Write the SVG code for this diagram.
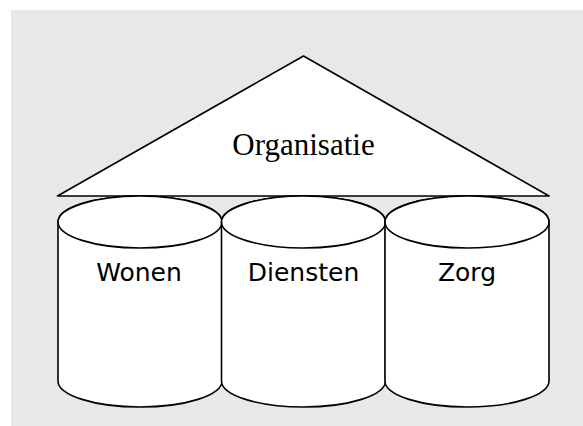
<svg xmlns="http://www.w3.org/2000/svg" width="583" height="426" viewBox="0 0 583 426">
  <style>
    .shape { fill: #ffffff; stroke: #000000; stroke-width: 1.6; stroke-linejoin: round; }
    .label { font-family: "DejaVu Sans", Verdana, sans-serif; font-size: 25px; fill: #000000; text-anchor: middle; }
    .roof { font-family: "Liberation Serif", "Times New Roman", serif; font-size: 31px; fill: #000000; text-anchor: middle; }
  </style>
  <rect x="0" y="0" width="583" height="426" fill="#ffffff"/>
  <rect x="11" y="10" width="572" height="416" fill="#e8e8e8"/>

  <!-- roof -->
  <g id="organisatie">
    <polygon class="shape" points="57.5,196 303.5,56 549,196"/>
    <text class="roof" x="303.5" y="154.5">Organisatie</text>
  </g>

  <!-- pillars -->
  <g id="wonen">
    <path class="shape" d="M58 222 L58 381 A82 26 0 0 0 222 381 L222 222 A82 26 0 0 0 58 222 Z"/>
    <ellipse class="shape" cx="140" cy="222" rx="82" ry="26"/>
    <text class="label" x="139" y="280.5">Wonen</text>
  </g>
  <g id="diensten">
    <path class="shape" d="M221.5 222 L221.5 381 A82 26 0 0 0 385.5 381 L385.5 222 A82 26 0 0 0 221.5 222 Z"/>
    <ellipse class="shape" cx="303.5" cy="222" rx="82" ry="26"/>
    <text class="label" x="303.5" y="280.5">Diensten</text>
  </g>
  <g id="zorg">
    <path class="shape" d="M385 222 L385 381 A82 26 0 0 0 549 381 L549 222 A82 26 0 0 0 385 222 Z"/>
    <ellipse class="shape" cx="467" cy="222" rx="82" ry="26"/>
    <text class="label" x="467" y="280.5">Zorg</text>
  </g>

  <g id="connectors"/>
</svg>
